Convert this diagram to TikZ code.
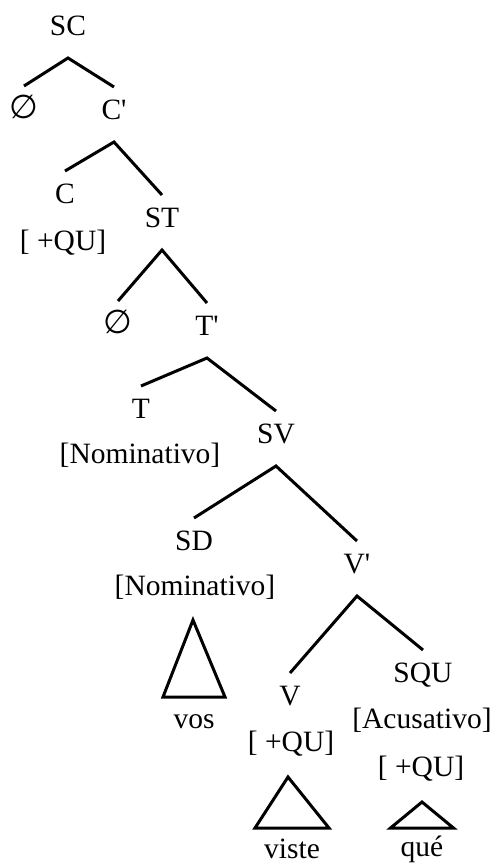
\documentclass[tikz,border=0pt]{standalone}
\usepackage{fontspec}
\setmainfont{Liberation Serif}[Ligatures=TeXOff]
\newfontfamily\symfont{DejaVu Sans}
\usetikzlibrary{calc}
\newcommand\treefork[3]{\draw[br] ($(#2.base)+(0,-32)$) -- ($(#1.base)+(0,23)$) -- ($(#3.base)+(0,-32)$);}
\begin{document}
\begin{tikzpicture}[x=1pt,y=-1pt,
 lab/.style={anchor=base,inner sep=0pt,outer sep=0pt,font=\fontsize{29.5}{35}\selectfont},
 nul/.style={lab,font=\symfont\fontsize{33}{36}\selectfont},
 br/.style={line width=3pt}]
\useasboundingbox (0,0) rectangle (496,865);
% labels
\node[lab] (SC) at (68,35) {SC};
\node[nul] (E1) at (24,118) {∅};
\node[lab] (Cb) at (114,119) {C'};
\node[lab] (C) at (65,203) {C};
\node[lab] (Cf) at (63,250) {[ +QU]};
\node[lab] (ST) at (162,227) {ST};
\node[nul] (E2) at (118,333) {∅};
\node[lab] (Tb) at (207,335) {T'};
\node[lab] (T) at (141,418) {T};
\node[lab] (Tf) at (140,463) {[Nominativo]};
\node[lab] (SV) at (276,443) {SV};
\node[lab] (SD) at (194,550) {SD};
\node[lab] (SDf) at (195,595) {[Nominativo]};
\node[lab] (Vb) at (357,573) {V'};
\node[lab] (V) at (290,705) {V};
\node[lab] (Vf) at (291,751) {[ +QU]};
\node[lab] (SQU) at (423,682) {SQU};
\node[lab] (SQa) at (422,728) {[Acusativo]};
\node[lab] (SQf) at (421,776) {[ +QU]};
\node[lab] (vos) at (194,728) {vos};
\node[lab] (viste) at (292,858) {viste};
\node[lab] (que) at (422,856) {qué};
% branches
\treefork{SC}{E1}{Cb}
\treefork{Cb}{C}{ST}
\treefork{ST}{E2}{Tb}
\treefork{Tb}{T}{SV}
\treefork{SV}{SD}{Vb}
\treefork{Vb}{V}{SQU}
% triangles
\draw[br] ($(SDf.base)+(-2,25)$) -- ($(vos.base)+(-31,-31)$) -- ($(vos.base)+(31,-31)$) -- cycle;
\draw[br] ($(Vf.base)+(-3,26)$) -- ($(viste.base)+(-37,-30)$) -- ($(viste.base)+(37,-30)$) -- cycle;
\draw[br] ($(SQf.base)+(1,26)$) -- ($(que.base)+(-31.5,-28)$) -- ($(que.base)+(31.5,-28)$) -- cycle;
\end{tikzpicture}
\end{document}
